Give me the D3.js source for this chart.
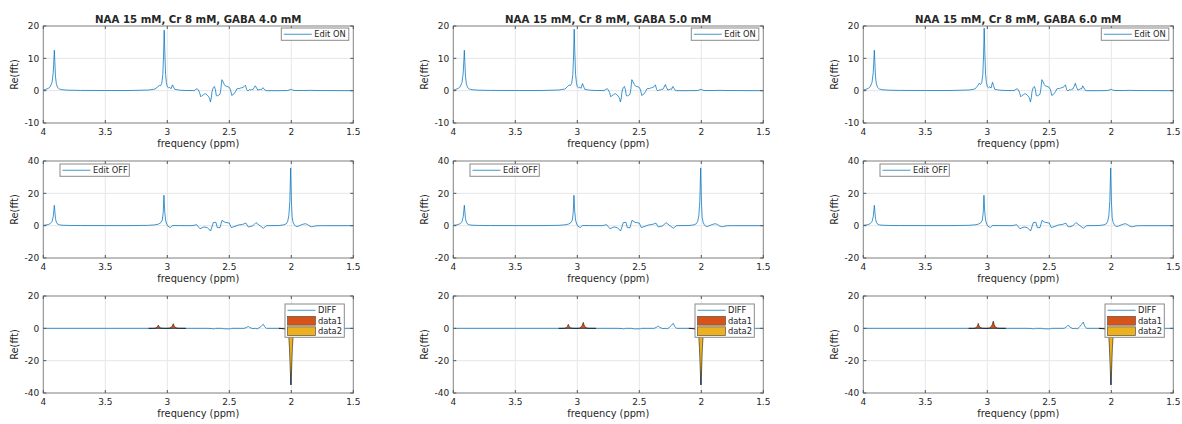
<!DOCTYPE html>
<html>
<head>
<meta charset="utf-8">
<script src="https://cdn.jsdelivr.net/npm/d3@7/dist/d3.min.js"></script>
<style>
  html, body { margin: 0; padding: 0; background: #ffffff; }
  svg { display: block; }
  text { font-family: "DejaVu Sans", sans-serif; fill: #262626; }
</style>
</head>
<body>
<svg id="fig" width="1182" height="424"></svg>
<script>
// ---- data ---------------------------------------------------------------
const titles = [
  "NAA 15 mM, Cr 8 mM, GABA 4.0 mM",
  "NAA 15 mM, Cr 8 mM, GABA 5.0 mM",
  "NAA 15 mM, Cr 8 mM, GABA 6.0 mM"
];
const xTicks = [4, 3.5, 3, 2.5, 2, 1.5];
const yTicksOn = [-10, 0, 10, 20];
const yTicksOff = [-20, 0, 20, 40];
const yTicksDiff = [-40, -20, 0, 20];

// Edit ON spectra (ppm grid shared by the three GABA levels)
const ppmOn = [4.00, 3.98, 3.96, 3.945, 3.93, 3.92, 3.914, 3.911, 3.907, 3.902, 3.895, 3.885, 3.87, 3.85, 3.80, 3.70, 3.50, 3.30, 3.15, 3.10,
  3.08, 3.065, 3.055, 3.045, 3.036, 3.030, 3.025, 3.020, 3.014, 3.007, 3.000, 2.99, 2.98, 2.97, 2.958, 2.95, 2.94, 2.92, 2.90, 2.85,
  2.80, 2.785, 2.77, 2.76, 2.75, 2.74, 2.73, 2.72, 2.71, 2.70, 2.69, 2.68, 2.67, 2.66, 2.652, 2.645, 2.64, 2.63, 2.62, 2.612,
  2.605, 2.595, 2.585, 2.575, 2.568, 2.56, 2.55, 2.54, 2.53, 2.52, 2.51, 2.50, 2.49, 2.48, 2.47, 2.46, 2.45, 2.44, 2.43, 2.42,
  2.41, 2.40, 2.39, 2.38, 2.37, 2.36, 2.35, 2.34, 2.33, 2.32, 2.31, 2.30, 2.29, 2.28, 2.27, 2.26, 2.25, 2.24, 2.23, 2.22,
  2.21, 2.20, 2.10, 2.03, 2.01, 2.00, 1.99, 1.97, 1.90, 1.85, 1.80, 1.50];
const onGaba4 = [0.25, 0.4, 0.7, 1.2, 2.5, 5.5, 10, 12.5, 9, 4.5, 2.2, 1.0, 0.5, 0.3, 0.15, 0.08, 0.05, 0.05, 0.2, 0.5,
  1.1, 1.6, 1.5, 2.2, 5, 11, 18.7, 12, 5, 2.5, 1.2, 0.9, 1.0, 0.6, 1.8, 1.2, 0.4, 0.3, 0.15, 0.05,
  0.05, 0.0, 0.4, 0.6, 0.3, -0.6, -1.9, -1.5, -1.3, -1.0, -1.0, -1.3, -1.7, -2.3, -3.5, -2.2, -0.4, 0.9, 1.3, 0.3,
  -1.5, -1.6, -1.4, -1.1, 0.5, 3.4, 2.7, 1.9, 1.4, 1.3, 1.2, 1.0, 0.2, -1.5, -1.2, -0.9, -0.3, 0.5, 0.7, 0.6,
  0.8, 0.9, 1.0, 1.3, 1.7, 0.3, -0.1, 0.3, 0.2, 0.4, 0.3, 0.9, 1.5, 0.8, 0.2, 0.3, 0.4, 0.3, 0.9, 0.6,
  0.1, 0.0, 0.0, 0.05, 0.3, 0.4, 0.2, 0.05, 0.05, 0.1, 0.05, 0.0];
const onGaba5 = [0.25, 0.4, 0.7, 1.2, 2.5, 5.5, 10, 12.5, 9, 4.5, 2.2, 1.0, 0.5, 0.3, 0.15, 0.08, 0.05, 0.05, 0.2, 0.5,
  1.2, 1.8, 1.6, 2.3, 5, 11, 19.0, 12, 5, 2.5, 1.2, 0.9, 1.1, 0.7, 2.2, 1.4, 0.4, 0.3, 0.15, 0.05,
  0.05, 0.0, 0.4, 0.6, 0.3, -0.6, -1.9, -1.5, -1.3, -1.0, -1.0, -1.3, -1.7, -2.3, -3.5, -2.2, -0.4, 0.9, 1.3, 0.3,
  -1.5, -1.6, -1.4, -1.1, 0.5, 3.4, 2.7, 1.9, 1.4, 1.3, 1.2, 1.0, 0.2, -1.5, -1.2, -0.9, -0.3, 0.5, 0.7, 0.6,
  0.8, 0.9, 1.0, 1.3, 1.8, 0.3, -0.1, 0.3, 0.2, 0.4, 0.4, 1.1, 1.9, 0.9, 0.2, 0.3, 0.5, 0.4, 1.3, 0.7,
  0.1, 0.0, 0.0, 0.05, 0.3, 0.4, 0.2, 0.05, 0.05, 0.1, 0.05, 0.0];
const onGaba6 = [0.25, 0.4, 0.7, 1.2, 2.5, 5.5, 10, 12.5, 9, 4.5, 2.2, 1.0, 0.5, 0.3, 0.15, 0.08, 0.05, 0.05, 0.2, 0.5,
  1.4, 2.3, 1.9, 2.5, 5, 11, 19.3, 12, 5, 2.5, 1.2, 0.9, 1.2, 0.8, 2.6, 1.6, 0.4, 0.3, 0.15, 0.05,
  0.05, 0.0, 0.4, 0.6, 0.3, -0.6, -1.9, -1.5, -1.3, -1.0, -1.0, -1.3, -1.7, -2.3, -3.5, -2.2, -0.4, 0.9, 1.3, 0.3,
  -1.5, -1.6, -1.4, -1.1, 0.5, 3.4, 2.7, 1.9, 1.4, 1.3, 1.2, 1.0, 0.2, -1.5, -1.2, -0.9, -0.3, 0.5, 0.7, 0.6,
  0.8, 0.9, 1.0, 1.3, 1.8, 0.3, -0.1, 0.3, 0.2, 0.4, 0.5, 1.3, 2.3, 1.0, 0.2, 0.3, 0.6, 0.5, 1.5, 0.8,
  0.1, 0.0, 0.0, 0.05, 0.3, 0.4, 0.2, 0.05, 0.05, 0.1, 0.05, 0.0];

// Edit OFF spectra
const ppmOff = [4.00, 3.98, 3.96, 3.945, 3.93, 3.92, 3.914, 3.911, 3.907, 3.902, 3.895, 3.885, 3.87, 3.85, 3.80, 3.70, 3.50, 3.30, 3.15, 3.10,
  3.07, 3.05, 3.04, 3.033, 3.027, 3.021, 3.014, 3.005, 2.995, 2.985, 2.975, 2.965, 2.955, 2.90, 2.80,
  2.763, 2.737, 2.704, 2.677, 2.651, 2.629, 2.608, 2.597, 2.575, 2.559, 2.535, 2.50, 2.484, 2.454, 2.427, 2.392, 2.366, 2.347, 2.312, 2.285,
  2.253, 2.226, 2.199, 2.10, 2.06, 2.04, 2.03, 2.02, 2.012, 2.005, 1.999, 1.993, 1.985, 1.975, 1.965, 1.955, 1.94, 1.92, 1.90, 1.885,
  1.87, 1.86, 1.85, 1.835, 1.82, 1.80, 1.75, 1.50];
const offGaba4 = [0.25, 0.4, 0.7, 1.2, 2.5, 5.5, 10, 12.6, 9, 4.5, 2.2, 1.0, 0.5, 0.3, 0.15, 0.08, 0.05, 0.05, 0.2, 0.5,
  1.0, 2.0, 3.5, 8, 18.8, 9, 3.5, 1.0, -0.3, -0.8, -1.2, -0.3, 0.1, 0.05, 0.0,
  0.6, -1.9, -0.8, -1.2, -3.3, 1.9, 2.1, -1.2, -1.2, 3.3, 2.1, 1.6, -1.2, -0.4, 0.4, 0.8, 1.6, -0.8, -0.2, 1.9,
  0.0, -1.6, 0.0, 0.1, 0.5, 1.2, 2.5, 6, 15, 35.7, 15, 5, 2, 0.5, -0.3, -0.6, -0.2, 0.5, 1.0, 1.2,
  0.7, 0.2, -0.3, -0.7, -0.5, -0.1, 0.0, 0.0];
const offGaba5 = offGaba4.slice();
const offGaba6 = offGaba4.slice();

// Difference spectra (ON - OFF)
const ppmDiff = [4.00, 2.68, 2.64, 2.625, 2.61, 2.56, 2.545, 2.49, 2.48, 2.38, 2.36, 2.347, 2.335, 2.31, 2.29, 2.275, 2.26, 2.24, 2.226, 2.215,
  2.20, 2.10, 2.04, 2.02, 2.01, 2.003, 1.996, 1.99, 1.98, 1.95, 1.50];
const diffGaba4 = [0, 0, -0.1, -0.4, 0, 0, -0.3, -0.3, 0, 0, 0.6, 1.2, 0.5, -0.2, 0.0, -0.3, 0.3, 1.5, 2.5, 1.0,
  0, 0, -0.3, -1, -5, -35, -5, -1, -0.2, 0, 0];
const diffGaba5 = [0, 0, -0.1, -0.4, 0, 0, -0.3, -0.3, 0, 0, 0.7, 1.4, 0.6, -0.2, 0.0, -0.3, 0.4, 1.9, 3.1, 1.2,
  0, 0, -0.3, -1, -5, -35, -5, -1, -0.2, 0, 0];
const diffGaba6 = [0, 0, -0.1, -0.4, 0, 0, -0.3, -0.3, 0, 0, 1.0, 2.0, 0.8, -0.2, 0.0, -0.3, 0.5, 2.4, 3.9, 1.5,
  0, 0, -0.3, -1, -5, -35, -5, -1, -0.2, 0, 0];

// Filled components under the difference spectrum
const ppmData1 = [3.15, 3.12, 3.10, 3.09, 3.08, 3.073, 3.066, 3.055, 3.04, 3.02, 3.00, 2.98, 2.97, 2.96, 2.952, 2.944, 2.935, 2.92, 2.90, 2.85];
const data1Gaba4 = [0, 0, 0.1, 0.3, 1.0, 2.0, 1.0, 0.3, 0.1, 0, 0, 0.2, 0.6, 1.5, 2.9, 1.5, 0.5, 0.15, 0.05, 0];
const data1Gaba5 = [0, 0, 0.1, 0.4, 1.2, 2.5, 1.2, 0.4, 0.1, 0, 0, 0.2, 0.8, 1.9, 3.7, 1.9, 0.6, 0.15, 0.05, 0];
const data1Gaba6 = [0, 0, 0.1, 0.5, 1.5, 3.1, 1.5, 0.5, 0.1, 0, 0, 0.3, 1.0, 2.3, 4.5, 2.3, 0.8, 0.2, 0.05, 0];
const ppmData2 = [2.10, 2.06, 2.04, 2.03, 2.022, 2.015, 2.009, 2.003, 1.997, 1.991, 1.984, 1.976, 1.965, 1.95, 1.94];
const data2Gaba4 = [0, -0.3, -0.8, -1.5, -3.5, -12, -25, -35, -25, -12, -3.5, -1.5, -0.6, -0.2, 0];
const data2Gaba5 = data2Gaba4.slice();
const data2Gaba6 = data2Gaba4.slice();

// ---- layout & style -------------------------------------------------------
const colLeft = [43.3, 453.3, 863.3];
const rowTop = [26, 161, 296];
const axW = 310, axH = 97;
const blue = "#0072BD", orange = "#D95319", yellow = "#EDB120";
const tickFont = "9px", labelFont = "9.8px", titleFont = "10.2px", legendFont = "8.3px";

const svg = d3.select("#fig");
const defs = svg.append("defs");

function drawAxes(ci, ri, yDomain, yTicks) {
  const x0 = colLeft[ci], y0 = rowTop[ri];
  const x = d3.scaleLinear().domain([4, 1.5]).range([x0, x0 + axW]);
  const y = d3.scaleLinear().domain(yDomain).range([y0 + axH, y0]);
  const g = svg.append("g");
  // grid
  g.selectAll(".gx").data(xTicks).enter().append("line")
    .attr("x1", d => x(d)).attr("x2", d => x(d)).attr("y1", y0).attr("y2", y0 + axH)
    .attr("stroke", "#e6e6e6").attr("stroke-width", 1);
  g.selectAll(".gy").data(yTicks).enter().append("line")
    .attr("y1", d => y(d)).attr("y2", d => y(d)).attr("x1", x0).attr("x2", x0 + axW)
    .attr("stroke", "#e6e6e6").attr("stroke-width", 1);
  const id = "clip" + ci + "_" + ri;
  defs.append("clipPath").attr("id", id).append("rect")
    .attr("x", x0).attr("y", y0).attr("width", axW).attr("height", axH);
  const plot = svg.append("g").attr("clip-path", "url(#" + id + ")");
  const frame = svg.append("g");
  // box
  frame.append("rect").attr("x", x0).attr("y", y0).attr("width", axW).attr("height", axH)
    .attr("fill", "none").attr("stroke", "#8a8a8a").attr("stroke-width", 1);
  // ticks inside on all four sides
  xTicks.forEach(t => {
    frame.append("line").attr("x1", x(t)).attr("x2", x(t)).attr("y1", y0 + axH).attr("y2", y0 + axH - 3).attr("stroke", "#555");
    frame.append("line").attr("x1", x(t)).attr("x2", x(t)).attr("y1", y0).attr("y2", y0 + 3).attr("stroke", "#555");
    frame.append("text").attr("x", x(t)).attr("y", y0 + axH + 11.5).attr("text-anchor", "middle")
      .attr("font-size", tickFont).text(t);
  });
  yTicks.forEach(t => {
    frame.append("line").attr("y1", y(t)).attr("y2", y(t)).attr("x1", x0).attr("x2", x0 + 3).attr("stroke", "#555");
    frame.append("line").attr("y1", y(t)).attr("y2", y(t)).attr("x1", x0 + axW).attr("x2", x0 + axW - 3).attr("stroke", "#555");
    frame.append("text").attr("x", x0 - 4).attr("y", y(t) + 3.3).attr("text-anchor", "end")
      .attr("font-size", tickFont).text(t);
  });
  frame.append("text").attr("x", x0 + axW / 2).attr("y", y0 + axH + 23.5).attr("text-anchor", "middle")
    .attr("font-size", labelFont).text("frequency (ppm)");
  frame.append("text").attr("transform", `translate(${x0 - 25.5},${y0 + axH / 2}) rotate(-90)`)
    .attr("text-anchor", "middle").attr("font-size", labelFont).text("Re(fft)");
  return { x, y, plot, frame, x0, y0 };
}

function drawLine(ax, ppm, vals) {
  const pts = ppm.map((p, i) => [p, vals[i]]);
  ax.plot.append("path").datum(pts)
    .attr("d", d3.line().x(d => ax.x(d[0])).y(d => ax.y(d[1])))
    .attr("fill", "none").attr("stroke", blue).attr("stroke-width", 0.75);
}

function drawArea(ax, ppm, vals, color) {
  const pts = ppm.map((p, i) => [p, vals[i]]);
  ax.plot.append("path").datum(pts)
    .attr("d", d3.area().x(d => ax.x(d[0])).y0(ax.y(0)).y1(d => ax.y(d[1])))
    .attr("fill", color).attr("stroke", "#000").attr("stroke-width", 0.5);
}

function legend(ax, lx, ly, w, entries) {
  const rowH = 10.5;
  const g = ax.frame.append("g");
  g.append("rect").attr("x", lx).attr("y", ly).attr("width", w).attr("height", rowH * entries.length + 1.8)
    .attr("fill", "#fff").attr("stroke", "#8a8a8a").attr("stroke-width", 1);
  entries.forEach((e, i) => {
    const cy = ly + 1 + rowH * i + rowH / 2;
    if (e.type === "line") {
      g.append("line").attr("x1", lx + 2.5).attr("x2", lx + 30.5).attr("y1", cy).attr("y2", cy)
        .attr("stroke", blue).attr("stroke-width", 0.75);
    } else {
      g.append("rect").attr("x", lx + 2.5).attr("y", cy - 4.4).attr("width", 28).attr("height", 8.8)
        .attr("fill", e.color).attr("stroke", "#555").attr("stroke-width", 0.7);
    }
    g.append("text").attr("x", lx + 33).attr("y", cy + 3).attr("text-anchor", "start")
      .attr("font-size", legendFont).text(e.label);
  });
}

const onData = [onGaba4, onGaba5, onGaba6];
const offData = [offGaba4, offGaba5, offGaba6];
const diffData = [diffGaba4, diffGaba5, diffGaba6];
const d1Data = [data1Gaba4, data1Gaba5, data1Gaba6];
const d2Data = [data2Gaba4, data2Gaba5, data2Gaba6];

for (let c = 0; c < 3; c++) {
  // Edit ON
  const a1 = drawAxes(c, 0, [-10, 20], yTicksOn);
  drawLine(a1, ppmOn, onData[c]);
  a1.frame.append("text").attr("x", a1.x0 + axW / 2).attr("y", a1.y0 - 3).attr("text-anchor", "middle")
    .attr("font-size", titleFont).attr("font-weight", "bold").attr("fill", "#000").text(titles[c]);
  legend(a1, a1.x0 + 238, a1.y0 + 2, 67.5, [{ type: "line", label: "Edit ON" }]);

  // Edit OFF
  const a2 = drawAxes(c, 1, [-20, 40], yTicksOff);
  drawLine(a2, ppmOff, offData[c]);
  legend(a2, a2.x0 + 16.7, a2.y0 + 3, 69.3, [{ type: "line", label: "Edit OFF" }]);

  // Difference with filled components
  const a3 = drawAxes(c, 2, [-40, 20], yTicksDiff);
  drawLine(a3, ppmDiff, diffData[c]);
  drawArea(a3, ppmData1, d1Data[c], orange);
  drawArea(a3, ppmData2, d2Data[c], yellow);
  legend(a3, a3.x0 + 241.7, a3.y0 + 8, 59.3, [
    { type: "line", label: "DIFF" },
    { type: "patch", color: orange, label: "data1" },
    { type: "patch", color: yellow, label: "data2" }
  ]);
}
</script>
</body>
</html>
